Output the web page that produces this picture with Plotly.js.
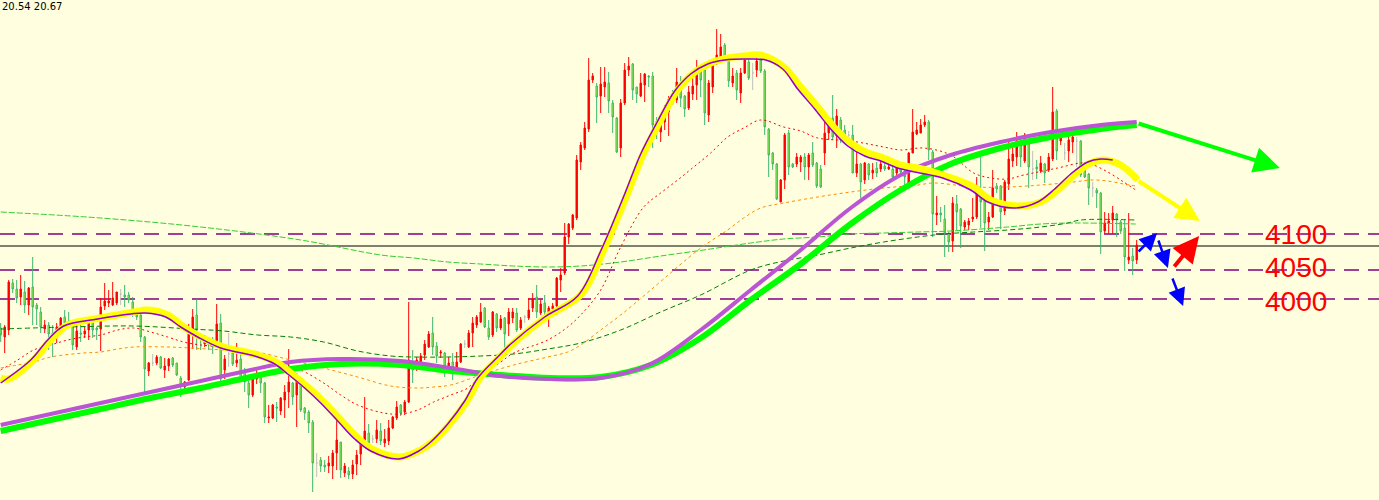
<!DOCTYPE html>
<html>
<head>
<meta charset="utf-8">
<script src="https://cdn.plot.ly/plotly-3.0.1.min.js"></script>
<style>html,body{margin:0;padding:0;background:#FFFFE0;}#chart{width:1379px;height:500px;}</style>
</head>
<body>
<div id="chart"></div>
<script>
// ---------------- candle data (prices) ----------------
const candleOpen = [3956.5,3943,3953.5,4024,4015,4003,4010.5,3991,4018,3991,3980.5,3955,3961,3949,3943,3959.5,3973,3967,3961,3928,3949,3947.5,3953.5,3967,3956.5,3955,3989.5,3994,3991,3994,4007.5,4006,4006,3995.5,3977.5,3976,3943,3892,3904,3904,3913,3893.5,3899.5,3911.5,3904,3881.5,3868,3878.5,3949,3976,3943,3932.5,3941.5,3937,3937,3964,3893.5,3917.5,3919,3904,3910,3893.5,3874,3856,3880,3886,3874,3821.5,3821.5,3838,3832,3848.5,3860.5,3874,3856,3872.5,3836.5,3830.5,3815.5,3754,3758.5,3751,3749.5,3749.5,3769,3785.5,3739,3742,3737.5,3752.5,3767.5,3782.5,3799,3790,3790,3802,3784,3787,3806.5,3821.5,3841,3830.5,3845.5,3905.5,3898,3904,3916,3928,3949,3929.5,3919,3919,3893.5,3905.5,3892,3905.5,3932.5,3928,3949,3961,3965.5,3986.5,3956.5,3946,3977.5,3956.5,3971.5,3962.5,3971.5,3979,3956.5,3973,3971.5,3986.5,4003,3979,3994,3979,3985,3989.5,4028.5,4039,4093,4106.5,4121.5,4205.5,4226.5,4255,4328.5,4319.5,4304.5,4318,4324,4294,4271.5,4226.5,4294,4343.5,4352.5,4318,4304.5,4321,4334.5,4334.5,4267,4250.5,4265.5,4280.5,4301.5,4298.5,4325.5,4304.5,4286.5,4307.5,4321,4343.5,4343.5,4276,4318,4354,4363,4381,4357,4324,4339,4309,4339,4355.5,4339,4343.5,4358.5,4342,4255,4219,4202.5,4145.5,4178.5,4249,4202.5,4202.5,4205.5,4213,4198,4219,4204,4195,4219,4249,4271.5,4244.5,4268.5,4253.5,4246,4246,4189,4202.5,4178.5,4202.5,4189,4196.5,4195,4199.5,4195,4195,4189,4198,4189,4169.5,4219,4247.5,4249,4261,4265.5,4220.5,4126,4129,4120,4099,4087,4142.5,4135,4108,4111,4120,4123,4156,4151.5,4115.5,4123,4169.5,4169.5,4132,4172.5,4207,4213,4234,4207,4232.5,4195,4198,4192,4202.5,4193.5,4210,4282,4237,4219,4222,4235.5,4237,4237,4199.5,4187.5,4166.5,4163.5,4159,4102,4114,4118.5,4127.5,4115.5,4106.5,4058.5,4064.5,4058.5];
const candleHigh = [3964,3961,4028.5,4030,4028.5,4036,4027,4018,4063,3994,3988,3968.5,3965.5,3961,3964,3973,3983.5,3980.5,3965.5,3965.5,3961,3958,3971.5,3968.5,3958,4001.5,4024,4013.5,4025.5,4010.5,4015,4021,4010.5,4003,3986.5,3977.5,3944.5,3905.5,3917.5,3916,3914.5,3911.5,3911.5,3913,3904,3884.5,3877,3962.5,3985,4000,3949,3946,3943,3943,3992.5,3977.5,3916,3949,3926.5,3934,3920.5,3896.5,3883,3883,3896.5,3889,3875.5,3841,3842.5,3845.5,3853,3871,3925,3875.5,3889,3875.5,3838,3833.5,3818.5,3769,3763,3758.5,3764.5,3773.5,3818.5,3785.5,3754,3748,3758.5,3773.5,3791.5,3853,3812.5,3796,3818.5,3814,3805,3818.5,3824.5,3847,3842.5,3848.5,3995.5,3923.5,3913,3919,3938.5,3952,3973,3935.5,3923.5,3920.5,3913,3919,3920.5,3934,3938.5,3953.5,3973,3976,3994,3988,3968.5,3982,3979,3976,3973,3986.5,3986.5,3986.5,3973,3976,4001.5,4009,4021,3998.5,4006,3989.5,3994,4033,4046.5,4114,4114,4127.5,4216,4235.5,4265.5,4361.5,4339,4324,4348,4348,4340.5,4298.5,4273,4300,4354,4363,4354,4318,4339,4339,4336,4340.5,4273,4276,4291,4304.5,4313.5,4346.5,4334.5,4306,4319.5,4331.5,4358.5,4348,4345,4328.5,4360,4405,4397.5,4384,4360,4346.5,4343.5,4346.5,4363,4364.5,4354,4363,4370.5,4345,4256.5,4220.5,4204,4180,4249,4253.5,4204,4219,4216,4219,4219,4235.5,4205.5,4201,4265.5,4264,4306,4285,4273,4261,4252,4261,4220.5,4204,4205.5,4204,4204,4205.5,4211.5,4204,4213,4204,4204,4204,4198,4220.5,4285,4265.5,4270,4276,4268.5,4223.5,4154.5,4138,4141,4100.5,4153,4156,4136.5,4118.5,4121.5,4151.5,4183,4213,4153,4130.5,4193.5,4174,4171,4178.5,4237,4228,4250.5,4243,4249,4235.5,4222,4208.5,4214.5,4204,4219,4318,4285,4255,4234,4246,4250.5,4243,4238.5,4205.5,4189,4175.5,4166.5,4160.5,4130.5,4129,4139.5,4129,4118.5,4118.5,4129,4076.5,4088.5];
const candleLow = [3935.5,3919,3946,4009,3994,3991,3979,3976,3961,3961,3949,3949,3923.5,3913,3934,3953.5,3955,3959.5,3923.5,3923.5,3935.5,3941.5,3938.5,3941.5,3938.5,3922,3983.5,3988,3989.5,3991,3991,3988,3994,3973,3968.5,3935.5,3857.5,3884.5,3899.5,3901,3895,3881.5,3892,3898,3884.5,3853,3865,3877,3925,3923.5,3923.5,3928,3923.5,3917.5,3928,3871,3880,3898,3899.5,3898,3875.5,3860.5,3836.5,3853,3872.5,3859,3814,3814,3820,3815.5,3826,3821.5,3836.5,3841,3808,3830.5,3818.5,3799,3710.5,3733,3740.5,3740.5,3739,3730,3743.5,3731.5,3733,3730,3730,3736,3751,3778,3779.5,3784,3784,3781,3778,3781,3805,3818.5,3824.5,3826,3844,3874,3892,3901,3908.5,3926.5,3916,3904,3911.5,3883,3890.5,3878.5,3889,3904,3926.5,3926.5,3928,3956.5,3964,3956.5,3938.5,3943,3950.5,3953.5,3914.5,3944.5,3964,3950.5,3953.5,3964,3968.5,3980.5,3971.5,3976,3965.5,3958,3979,3976,4010.5,4036,4082.5,4103.5,4118.5,4193.5,4223.5,4250.5,4324,4264,4279,4303,4279,4249,4219,4213,4291,4334.5,4298.5,4294,4303,4295.5,4318,4226.5,4240,4235.5,4253.5,4244.5,4291,4294,4288,4273,4283.5,4298.5,4298.5,4303,4261,4265.5,4309,4351,4361.5,4355.5,4318,4318,4298.5,4294,4337.5,4328.5,4313.5,4333,4339,4246,4183,4193.5,4148.5,4145.5,4165,4186,4196.5,4198,4190.5,4178.5,4178.5,4198,4166.5,4166.5,4201,4238.5,4238.5,4226.5,4234,4234,4234,4189,4183,4151.5,4172.5,4178.5,4180,4183,4190.5,4192,4193.5,4180,4184.5,4184.5,4168,4168,4219,4246,4249,4258,4208.5,4093,4111,4115.5,4063,4070.5,4070.5,4103.5,4076.5,4103.5,4103.5,4115.5,4120,4106.5,4072,4103.5,4121.5,4159,4105,4126,4163.5,4198,4199.5,4198,4204,4166.5,4178.5,4180,4189,4174,4190.5,4207,4208.5,4231,4208.5,4205.5,4219,4198,4183,4181.5,4141,4153,4136.5,4067.5,4097.5,4097.5,4097.5,4093,4097.5,4042,4052.5,4036,4052.5];
const candleClose = [3946,3958,4025.5,4015,4001.5,4015,3991,4016.5,3988,3985,3958,3961,3947.5,3937,3958,3971.5,3964,3964,3931,3952,3947.5,3952,3964,3953.5,3953.5,3988,3997,3997,4001.5,4010.5,4007.5,4003,3998.5,3979,3973,3943,3895,3904,3904,3913,3896.5,3899.5,3910,3901,3886,3871,3875.5,3947.5,3973,3953.5,3938.5,3943,3931,3928,3962.5,3880,3910,3917.5,3902.5,3908.5,3877,3875.5,3856,3880,3889,3874,3823,3823,3841,3836.5,3851.5,3860.5,3875.5,3853,3881.5,3833.5,3829,3814,3754,3754,3749.5,3748,3754,3769,3788.5,3743.5,3749.5,3736,3751,3766,3782.5,3802,3784,3790,3803.5,3787,3790,3806.5,3823,3838,3829,3845.5,3908.5,3893.5,3908.5,3914.5,3932.5,3947.5,3928,3914.5,3920.5,3898,3904,3893.5,3905.5,3932.5,3932.5,3949,3964,3973,3980.5,3958,3943,3980.5,3956.5,3970,3947.5,3980.5,3980.5,3953.5,3968.5,3973,3983.5,4000,3980.5,3992.5,3980.5,3986.5,3989.5,4031.5,4036,4093,4112.5,4126,4208.5,4231,4256.5,4328.5,4334.5,4303,4322.5,4325.5,4297,4273,4220.5,4294,4343.5,4349.5,4313.5,4307.5,4324,4337.5,4333,4261,4253.5,4271.5,4280.5,4300,4294,4325.5,4301.5,4285,4310.5,4319.5,4339,4328.5,4279,4324,4357,4366,4378,4361.5,4327,4334.5,4313.5,4339,4358.5,4331.5,4339,4357,4342,4258,4216,4202.5,4150,4178.5,4246,4198,4198,4213,4213,4198,4216,4201,4169.5,4168,4249,4259.5,4243,4274.5,4238.5,4238.5,4246,4189,4202.5,4175.5,4204,4186,4193.5,4189,4202.5,4195,4198,4183,4196.5,4190.5,4183,4219,4250.5,4253.5,4261,4265.5,4223.5,4127.5,4129,4126,4099,4085.5,4144,4130.5,4109.5,4115.5,4117,4123,4159,4145.5,4114,4123,4166.5,4165,4130.5,4175.5,4210,4217.5,4237,4213,4246,4198,4195,4195,4204,4189,4213,4280.5,4222,4243,4219,4238.5,4243,4237,4186,4183,4166.5,4166.5,4159,4100.5,4114,4117,4129,4118.5,4102,4063,4063,4057,4081];

// ---------------- moving-average style lines (x = candle index, y = price) ----------------
const limeMaX = [0,12.5,25,37.5,50,62.5,72.5,85,100,112.5,125,137.5,150,162.5,175,187.5,200,212.5,225,237.5,250,262.5,275,284];
const limeMaY = [3802,3818.5,3835,3851.5,3866.5,3883,3895,3902.5,3901,3892,3886,3881.5,3883,3901,3941.5,3998.5,4052.5,4112.5,4163.5,4202.5,4226.5,4243,4255,4261];

const orchidMaX = [0,12.5,25,37.5,50,62.5,72.5,85,100,112.5,120,125,137.5,150,162.5,175,187.5,200,212.5,225,237.5,250,262.5,275,284];
const orchidMaY = [3811,3827.5,3844,3860.5,3877,3893.5,3905.5,3910,3907,3896.5,3889,3884.5,3880,3881.5,3902.5,3953.5,4013.5,4073.5,4136.5,4186,4216,4235.5,4250.5,4261,4265.5];

const yellowMaX = [0,2,8.25,12.5,16.75,25,33.25,36.75,41.75,45.75,50,55.75,64.25,69.25,72.5,76.75,80.75,85,89.25,93.25,100,105,108.25,112.5,116.75,120,125,128.25,136.75,145,150.75,156.75,160.75,165,169.25,173.25,177.5,181.75,185.75,190,195.75,200,204.25,208.25,212.5,216.75,220.75,225,229.25,236.25,243.25,247.5,254.25,260,264.25,268.25,272.5,275.75,280,284.25];
const yellowMaY = [3881.5,3880,3908.5,3938.5,3961,3971.5,3980.5,3983.5,3976,3958,3943,3928,3916,3904,3889,3868,3845.5,3818.5,3791.5,3773.5,3763,3773.5,3787,3814,3848.5,3883,3914.5,3934,3974.5,4006,4073.5,4159,4219,4268.5,4313.5,4339,4354,4361.5,4364.5,4366,4348,4318,4288,4258,4234,4219,4211.5,4201,4196.5,4184.5,4168,4148.5,4139.5,4145.5,4163.5,4186,4204,4208.5,4201,4178.5];

const violetMaX = [0,7.5,11.75,15.75,24.25,32.5,36.25,41.25,45,49.25,55,63.5,68.5,71.75,76,80,84.25,88.5,92.5,99.5,104.5,107.5,111.75,116,119.25,124.25,127.5,136,144.25,150,156,160,164.25,168.5,172.5,176.75,181,186.25,191.25,195.5,199.25,203.5,207.5,211.75,216,220,224.25,228.5,235.5,242.5,246.75,253.5,259.25,263.5,267.5,271.75,275,278];
const violetMaY = [3874,3908.5,3938.5,3959.5,3970,3977.5,3979,3973,3958,3943,3926.5,3914.5,3902.5,3887.5,3866.5,3844,3817,3790,3772,3760,3772,3785.5,3812.5,3847,3881.5,3913,3932.5,3973,4004.5,4072,4157.5,4217.5,4267,4312,4337.5,4352.5,4358.5,4360,4358.5,4345,4315,4285,4255,4229.5,4214.5,4207,4196.5,4190.5,4181.5,4163.5,4145.5,4136.5,4145.5,4165,4187.5,4205.5,4210,4208.5];

const redMaX = [0,4.25,8.25,12.5,16.75,20.75,25,29.25,33.25,37.5,41.75,45.75,50,55.75,62.5,68.25,75,80.75,85,89.25,95.75,100,104.25,108.25,112.5,116.75,120,125,128.25,136.75,141.75,145,150,155,160.75,165,169.25,173.25,177.5,181.75,185.75,190,195.75,200,204.25,212.5,220.75,225,230.75,237.5,243.25,247.5,251.75,255.75,264.25,270,272.5,276.75,280.75,283.75];
const redMaY = [3893.5,3908.5,3923.5,3931,3938.5,3943,3946,3953.5,3956.5,3950.5,3943,3935.5,3931,3928,3920.5,3908.5,3893.5,3874,3856,3841,3829,3827.5,3833.5,3845.5,3856,3866.5,3886,3905.5,3919,3938.5,3958,3976,4013.5,4078,4138,4159,4178.5,4198,4219,4243,4256.5,4268.5,4258,4252,4241.5,4237,4228,4223.5,4226.5,4216,4189,4181.5,4180,4186,4196.5,4204,4202.5,4190.5,4175.5,4163.5];

const orangeMaX = [0,4.25,8.25,12.5,20.75,25,29.25,33.25,41.75,47.5,55.75,62.5,72.5,80.75,89.25,97.5,104.25,108.25,112.5,120,128.25,136.75,141.75,145,150,155,162.5,175,181.75,185.75,190,195.75,204.25,212.5,220.75,229.25,233.25,243.25,251.75,260,268.25,272.5,276.75,280.75,283.75];
const orangeMaY = [3896.5,3901,3905.5,3913,3919,3920.5,3925,3928,3928,3926.5,3923.5,3922,3908.5,3896.5,3883,3869.5,3866.5,3868,3871,3886,3901,3913,3920.5,3931,3953.5,3976,4013.5,4076.5,4103.5,4121.5,4136.5,4144,4153,4160.5,4166.5,4171,4174,4168,4168,4171,4175.5,4178.5,4177,4172.5,4169.5];

const darkGreenMaX = [0,16.75,33.25,47.5,55.75,64.25,72.5,80.75,89.25,97.5,103.25,111.75,120,128.25,136.75,145,155,165,175,187.5,195.75,204.25,212.5,220.75,229.25,235.75,243.25,251.75,260,266.75,270,283.75];
const darkGreenMaY = [3955,3958,3959.5,3955,3952,3946,3943,3935.5,3922,3914.5,3913,3913,3914.5,3917.5,3925,3934,3953.5,3980.5,4006,4043.5,4057,4066,4076.5,4085.5,4093,4097.5,4100.5,4103.5,4108,4114,4118.5,4118.5];

const lightGreenMaX = [0,25,50,75,95,103.25,111.75,120,128.25,136.75,145,155,165,175.75,187.5,195.75,204.25,212.5,220.75,229.25,237.5,251.75,260,268.25,283.75];
const lightGreenMaY = [4130.5,4121.5,4108,4088.5,4066,4061.5,4055.5,4052.5,4049.5,4048,4049.5,4055.5,4064.5,4073.5,4084,4090,4093,4097.5,4099,4100.5,4102,4108,4112.5,4114,4112.5];

// ---------------- horizontal levels ----------------
const levelPrices = [4097.5, 4043.5, 4000];
const levelLabels = ['4100', '4050', '4000'];
const currentPrice = 4079.5;

// ---------------- hand-drawn arrows (tail -> head, candle index / price) ----------------
const arrowTailX = [284.1, 284.1, 284.1, 289.3, 292.8, 293.1];
const arrowTailY = [4264, 4178.5, 4069, 4090, 4033, 4046.5];
const arrowHeadX = [319.8, 299.8, 289.1, 291.8, 295.6, 299.6];
const arrowHeadY = [4196.5, 4117, 4099, 4046.5, 3989.5, 4094.5];
const arrowColors = ['#00FF00', '#FFFF00', '#0000FF', '#0000FF', '#0000FF', '#FF0000'];
const arrowWidths = [4, 4, 2.5, 2.5, 2.5, 4];
const arrowSizes = [1.3, 1.2, 1.4, 1.4, 1.4, 1.3];

const headerText = '20.54 20.67';

// ---------------- build traces ----------------
const idx = candleOpen.map((_, i) => i);
const isDoji = candleOpen.map((o, i) => o === candleClose[i]);
const pick = (arr, want) => arr.filter((_, i) => isDoji[i] === want);

function maLine(x, y, color, width, dash) {
  return {type: 'scatter', mode: 'lines', x: x, y: y, hoverinfo: 'skip', showlegend: false,
    line: {color: color, width: width, dash: dash || 'solid', shape: 'spline', smoothing: 1}};
}

const traces = [
  maLine(lightGreenMaX, lightGreenMaY, '#32CD32', 1, '6px,2px'),
  maLine(darkGreenMaX, darkGreenMaY, '#008000', 1, '5px,3px'),
  maLine(orangeMaX, orangeMaY, '#FF8C00', 1, '3px,3px'),
  maLine(redMaX, redMaY, '#FF0000', 1, '2px,3px'),
  maLine(limeMaX, limeMaY, '#00FF00', 6),
  maLine(orchidMaX, orchidMaY, '#BA55D3', 4),
  maLine(yellowMaX, yellowMaY, '#FFFF00', 7),
  maLine(violetMaX, violetMaY, '#9400D3', 1.5),
  {type: 'candlestick', x: pick(idx, false), open: pick(candleOpen, false), high: pick(candleHigh, false),
   low: pick(candleLow, false), close: pick(candleClose, false), whiskerwidth: 0, hoverinfo: 'skip', showlegend: false,
   increasing: {line: {color: '#FF0000', width: 1}, fillcolor: '#FF0000'},
   decreasing: {line: {color: '#3CB371', width: 1}, fillcolor: '#ADFF2F'}},
  {type: 'candlestick', x: pick(idx, true), open: pick(candleOpen, true), high: pick(candleHigh, true),
   low: pick(candleLow, true), close: pick(candleClose, true), whiskerwidth: 0, hoverinfo: 'skip', showlegend: false,
   increasing: {line: {color: '#BEBEBE', width: 1}, fillcolor: '#BEBEBE'},
   decreasing: {line: {color: '#BEBEBE', width: 1}, fillcolor: '#BEBEBE'}}
];

const shapes = levelPrices.map(p => ({type: 'line', xref: 'paper', x0: 0, x1: 1, yref: 'y', y0: p, y1: p,
  layer: 'below', line: {color: '#800080', width: 1.6, dash: '15px,9px'}}));
shapes.push({type: 'line', xref: 'paper', x0: 0, x1: 1, yref: 'y', y0: currentPrice, y1: currentPrice,
  layer: 'below', line: {color: '#000000', width: 1}});

const labelShift = [0, 3, -2];
const annotations = levelLabels.map((t, i) => ({text: t, x: 323.9, xref: 'x', y: levelPrices[i], yref: 'y',
  xanchor: 'center', yanchor: 'middle', yshift: labelShift[i], showarrow: false,
  font: {family: 'Liberation Sans, Arial, sans-serif', size: 28, color: '#FF0000'}}));

arrowTailX.forEach((tx, i) => annotations.push({
  x: arrowHeadX[i], y: arrowHeadY[i], xref: 'x', yref: 'y', ax: tx, ay: arrowTailY[i], axref: 'x', ayref: 'y',
  text: '', showarrow: true, arrowhead: 2, arrowsize: arrowSizes[i], arrowwidth: arrowWidths[i],
  arrowcolor: arrowColors[i], standoff: 0, startstandoff: 0}));

annotations.push({text: headerText, xref: 'paper', yref: 'paper', x: 0, y: 1, xanchor: 'left', yanchor: 'top',
  xshift: 0, yshift: 1, showarrow: false, font: {family: 'DejaVu Sans, sans-serif', size: 10, color: '#000000'}});

const layout = {
  width: 1379, height: 500,
  margin: {l: 0, r: 0, t: 0, b: 0, pad: 0},
  paper_bgcolor: '#FFFFE0', plot_bgcolor: '#FFFFE0',
  showlegend: false, boxgap: 0.5,
  xaxis: {range: [-0.175, 344.575], visible: false, fixedrange: true, rangeslider: {visible: false}, type: 'linear'},
  yaxis: {range: [3698.5, 4448.5], visible: false, fixedrange: true},
  shapes: shapes, annotations: annotations
};

Plotly.newPlot('chart', traces, layout, {staticPlot: true, displayModeBar: false});
</script>
</body>
</html>
